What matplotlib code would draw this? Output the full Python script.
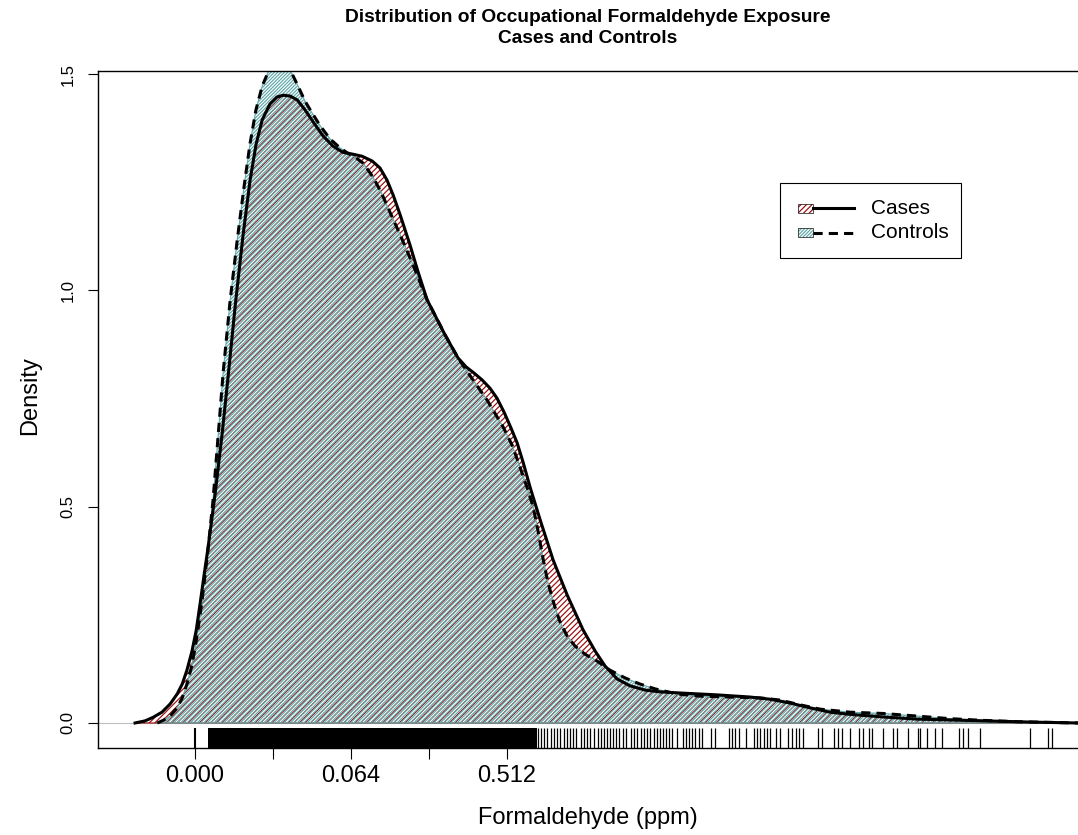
import matplotlib
matplotlib.use("Agg")
import matplotlib.pyplot as plt
from matplotlib.patches import Rectangle
from matplotlib.lines import Line2D
import matplotlib.transforms as mtransforms

plt.rcParams['font.family'] = ['Liberation Sans', 'DejaVu Sans']
plt.rcParams['hatch.linewidth'] = 0.85

# density curves, x on cube-root scale of ppm
cases_x = [-0.154, -0.128, -0.108, -0.085, -0.064, -0.046, -0.033, -0.021, -0.008, 0.003,
           0.013, 0.023, 0.033, 0.051, 0.069, 0.085, 0.103, 0.123, 0.141, 0.156,
           0.172, 0.192, 0.210, 0.226, 0.244, 0.262, 0.282, 0.303, 0.328, 0.354,
           0.379, 0.403, 0.428, 0.454, 0.474, 0.492, 0.508, 0.526, 0.551, 0.572,
           0.595, 0.641, 0.674, 0.695, 0.715, 0.736, 0.756, 0.774, 0.792, 0.810,
           0.826, 0.841, 0.859, 0.885, 0.918, 0.954, 0.995, 1.026, 1.051, 1.082,
           1.115, 1.154, 1.192, 1.251, 1.338, 1.423, 1.474, 1.526, 1.577, 1.628,
           1.679, 1.764, 1.851, 1.979, 2.149, 2.264]
cases_y = [0.000, 0.005, 0.013, 0.025, 0.044, 0.067, 0.090, 0.122, 0.166, 0.215,
           0.277, 0.342, 0.404, 0.527, 0.666, 0.804, 0.966, 1.128, 1.255, 1.336,
           1.394, 1.431, 1.447, 1.451, 1.449, 1.440, 1.417, 1.389, 1.357, 1.333,
           1.319, 1.315, 1.310, 1.299, 1.283, 1.255, 1.220, 1.174, 1.105, 1.042,
           0.978, 0.897, 0.844, 0.823, 0.809, 0.793, 0.774, 0.751, 0.719, 0.682,
           0.647, 0.603, 0.545, 0.469, 0.377, 0.296, 0.215, 0.166, 0.132, 0.102,
           0.086, 0.076, 0.072, 0.069, 0.065, 0.060, 0.055, 0.046, 0.035, 0.025,
           0.020, 0.014, 0.009, 0.006, 0.002, 0.000]

controls_x = [-0.097, -0.082, -0.064, -0.046, -0.033, -0.021, -0.010, 0.000, 0.010, 0.018,
              0.033, 0.046, 0.059, 0.072, 0.090, 0.108, 0.126, 0.141, 0.156, 0.172,
              0.187, 0.203, 0.218, 0.233, 0.249, 0.264, 0.282, 0.300, 0.321, 0.346,
              0.372, 0.390, 0.410, 0.431, 0.456, 0.477, 0.497, 0.526, 0.556, 0.595,
              0.641, 0.674, 0.695, 0.718, 0.749, 0.790, 0.813, 0.833, 0.851, 0.867,
              0.879, 0.892, 0.905, 0.921, 0.936, 0.954, 0.974, 1.000, 1.031, 1.064,
              1.103, 1.141, 1.179, 1.236, 1.295, 1.372, 1.449, 1.500, 1.551, 1.603,
              1.679, 1.764, 1.851, 1.936, 2.021, 2.108, 2.264]
controls_y = [0.000, 0.006, 0.016, 0.035, 0.058, 0.090, 0.127, 0.173, 0.233, 0.284,
              0.400, 0.515, 0.663, 0.811, 0.978, 1.116, 1.243, 1.340, 1.417, 1.472,
              1.504, 1.521, 1.525, 1.518, 1.500, 1.472, 1.437, 1.410, 1.380, 1.350,
              1.329, 1.318, 1.308, 1.294, 1.262, 1.227, 1.186, 1.128, 1.065, 0.978,
              0.897, 0.844, 0.816, 0.786, 0.746, 0.684, 0.642, 0.592, 0.545, 0.499,
              0.446, 0.381, 0.324, 0.273, 0.233, 0.201, 0.178, 0.159, 0.143, 0.122,
              0.104, 0.090, 0.079, 0.067, 0.062, 0.060, 0.058, 0.053, 0.042, 0.032,
              0.025, 0.022, 0.016, 0.010, 0.006, 0.003, 0.000]

# rug: a solid block where observations are too dense to separate, plus single marks
rug_zero = [0.0]
rug_dense_band = (0.033, 0.877)
rug_values = [0.879, 0.887, 0.895, 0.903, 0.913, 0.921, 0.928, 0.936, 0.946, 0.954,
              0.962, 0.969, 0.977, 0.990, 0.997, 1.005, 1.013, 1.023, 1.033, 1.041,
              1.049, 1.056, 1.064, 1.072, 1.079, 1.087, 1.097, 1.105, 1.118, 1.126,
              1.133, 1.144, 1.151, 1.159, 1.167, 1.177, 1.185, 1.192, 1.200, 1.208,
              1.215, 1.223, 1.236, 1.251, 1.259, 1.267, 1.274, 1.282, 1.292, 1.300,
              1.323, 1.333, 1.369, 1.377, 1.385, 1.395, 1.413, 1.433, 1.441, 1.449,
              1.459, 1.467, 1.474, 1.490, 1.500, 1.521, 1.531, 1.541, 1.549, 1.559,
              1.597, 1.608, 1.638, 1.649, 1.659, 1.679, 1.703, 1.713, 1.728, 1.736,
              1.764, 1.790, 1.800, 1.828, 1.854, 1.859, 1.877, 1.897, 1.915, 1.959,
              1.969, 1.982, 2.013, 2.141, 2.187, 2.197]

x_ticks = [0.0, 0.2, 0.4, 0.6, 0.8]
x_tick_labels = ['0.000', '', '0.064', '', '0.512']
y_ticks = [0.0, 0.5, 1.0, 1.5]
y_tick_labels = ['0.0', '0.5', '1.0', '1.5']

cases_col = '#9b0a0a'
controls_col = '#62a8aa'
cases_hatch = '/' * 6
controls_hatch = '/' * 10
dash = (0, (3, 2))

fig = plt.figure(figsize=(10.78, 8.35), dpi=100)
ax = fig.add_axes([98 / 1078, 87 / 835, 980 / 1078, 677 / 835])

ax.axhline(0, color='#bebebe', lw=0.8, zorder=0)

ax.fill_between(cases_x, 0, cases_y, facecolor='none', edgecolor=cases_col,
                hatch=cases_hatch, linewidth=0.8, zorder=1)
ax.fill_between(controls_x, 0, controls_y, facecolor='none', edgecolor=controls_col,
                hatch=controls_hatch, linewidth=0.8, zorder=2)
ax.plot(cases_x, cases_y, color='black', lw=2.2, zorder=3, solid_joinstyle='round')
ax.plot(controls_x, controls_y, color='black', lw=2.2, ls=dash, zorder=4)

# rug along the bottom
rug_tr = mtransforms.blended_transform_factory(ax.transData, ax.transAxes)
ax.vlines(rug_zero, 0, 0.03, transform=rug_tr, color='black', lw=1.5)
ax.add_patch(Rectangle((rug_dense_band[0], 0), rug_dense_band[1] - rug_dense_band[0], 0.03,
                       transform=rug_tr, facecolor='black', edgecolor='none'))
ax.vlines(rug_values, 0, 0.03, transform=rug_tr, color='black', lw=0.9)

ax.set_xlim(-0.249, 2.264)
ax.set_ylim(-0.0578, 1.507)
ax.spines['right'].set_visible(False)
for s in ['left', 'top', 'bottom']:
    ax.spines[s].set_linewidth(1.0)

ax.set_xticks(x_ticks)
ax.set_xticklabels(x_tick_labels, fontsize=17)
ax.set_yticks(y_ticks)
ax.set_yticklabels(y_tick_labels, fontsize=12, rotation=90, va='center')
ax.tick_params(axis='x', direction='out', length=8, width=0.8, pad=4)
ax.tick_params(axis='y', direction='out', length=7.2, width=0.8, pad=9)

ax.set_xlabel('Formaldehyde (ppm)', fontsize=17)
ax.xaxis.set_label_coords(0.5, -0.104)
ax.xaxis.label.set_va('center')
ax.set_ylabel('Density', fontsize=17)
ax.yaxis.set_label_coords(-0.0694, 0.521)
ax.yaxis.label.set_va('center')

ax.text(0.5, 1.0635, 'Distribution of Occupational Formaldehyde Exposure\nCases and Controls',
        transform=ax.transAxes, ha='center', va='center', fontsize=13.8,
        fontweight='bold', linespacing=1.3)

# legend box drawn by hand (R style: patch followed by line)
ax.add_patch(Rectangle((0.696, 0.724), 0.185, 0.111, transform=ax.transAxes,
                       facecolor='white', edgecolor='black', lw=0.8, zorder=5))
rows = [(0.797, cases_col, cases_hatch, '-', 'Cases'),
        (0.761, controls_col, controls_hatch, dash, 'Controls')]
for yy, col, hat, ls, lab in rows:
    ax.add_patch(Rectangle((0.714, yy - 0.0067), 0.016, 0.0134, transform=ax.transAxes,
                           facecolor='white', edgecolor=col, hatch=hat, lw=0, zorder=6))
    ax.add_patch(Rectangle((0.714, yy - 0.0067), 0.016, 0.0134, transform=ax.transAxes,
                           facecolor='none', edgecolor='#333333', lw=0.6, zorder=7))
    ax.add_line(Line2D([0.730, 0.771], [yy, yy], transform=ax.transAxes, color='black',
                       lw=2.2, ls=ls, zorder=7))
    ax.text(0.789, yy, lab, transform=ax.transAxes, ha='left', va='center',
            fontsize=15, zorder=7)

fig.savefig('out.png', dpi=100)
